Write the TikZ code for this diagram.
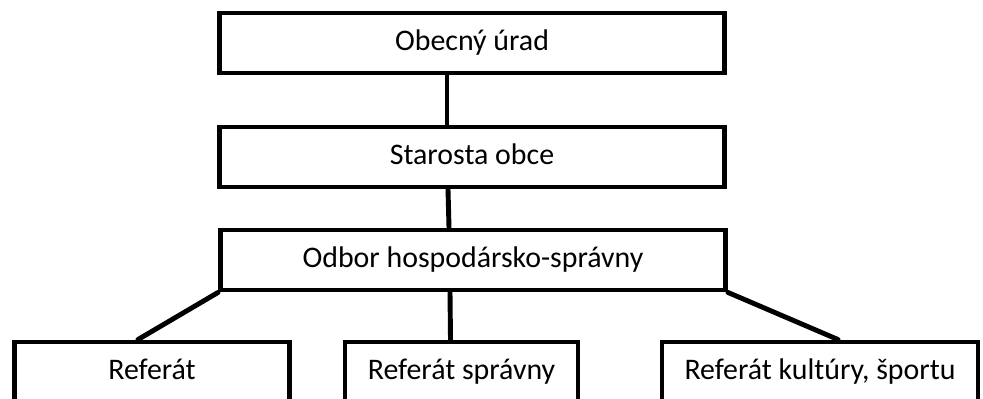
\documentclass[tikz,border=0pt]{standalone}
\usepackage{fontspec}
\setmainfont{Carlito}
\begin{document}
\begin{tikzpicture}[box/.style={draw, line width=2.8pt, minimum height=1.2cm, inner sep=0pt, text height=0.9em, text depth=0.1em, font=\fontsize{17}{20}\selectfont}, link/.style={line width=2.8pt, line cap=round}]
		\useasboundingbox (0,0) rectangle (19.66,-7.98);

		\node[box, minimum width=10.1cm] (urad) at (9.44,-0.86) {Obecný úrad};
		\node[box, minimum width=10.1cm] (starosta) at (9.44,-3.14) {Starosta obce};
		\node[box, minimum width=10.1cm] (odbor) at (9.46,-5.2) {Odbor hospodársko-správny};

		\draw[link] ([xshift=-0.5cm]urad.south) -- ([xshift=-0.5cm]starosta.north);
		\draw[link] ([xshift=-0.48cm]starosta.south) -- ([xshift=-0.48cm]odbor.north);


		\node[box, minimum width=5.5cm] (ref1) at (3.04,-7.44) {Referát};
		\node[box, minimum width=4.66cm] (ref2) at (9.23,-7.44) {Referát správny};
		\node[box, minimum width=6.32cm] (ref3) at (16.4,-7.44) {Referát kultúry, športu};

		\draw[link] (odbor.south west) -- ([xshift=-0.28cm]ref1.north);
		\draw[link] ([xshift=-0.46cm]odbor.south) -- ([xshift=-0.22cm]ref2.north);
		\draw[link] (odbor.south east) -- ([xshift=0.36cm]ref3.north);

	\end{tikzpicture}
\end{document}
